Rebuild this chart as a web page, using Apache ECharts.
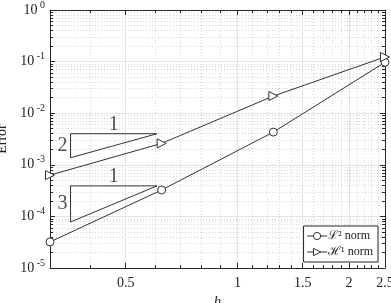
<!DOCTYPE html>
<html><head><meta charset="utf-8">
<script src="https://cdn.jsdelivr.net/npm/echarts@6/dist/echarts.min.js"></script>
<style>html,body{margin:0;padding:0;background:#fff}#c{width:391px;height:303px}</style>
</head><body><div id="c"></div>
<script>
// ---- data ----
const h = [0.3125, 0.625, 1.25, 2.5];
const errL2 = [3.2e-5, 3.25e-4, 4.3e-3, 0.097];
const errH1 = [6.3e-4, 2.6e-3, 0.0215, 0.123];
const seriesNames = ['\u2112\u00b2 norm', '\u210b\u00b9 norm'];
const xTickLabels = [0.5, 1, 1.5, 2, 2.5];
const xMinorTicks = [0.4, 0.6, 0.7, 0.8, 0.9, 1.1, 1.2, 1.3, 1.4, 1.6, 1.7, 1.8, 1.9, 2.1, 2.2, 2.3, 2.4];
const yTicks = [1e-5, 1e-4, 1e-3, 1e-2, 1e-1, 1];
const yMinorMult = [2, 3, 4, 5, 6, 7, 8, 9];
// slope triangles: x extent, top value, slope, labels
const slopeX = [0.355, 0.607];
const triA = {top: 4.0e-3, slope: 2, run: '1', rise: '2'};
const triB = {top: 3.9e-4, slope: 3, run: '1', rise: '3'};

const yMinorTicks = [];
for (let k = 0; k < yTicks.length - 1; k++) yMinorMult.forEach(m => yMinorTicks.push(+(m * yTicks[k]).toPrecision(3)));

const FONT = '"Liberation Serif", "DejaVu Serif", serif';
const AX = '#262626';
const LN = '#333333';

function triData(t) {
  const x0 = slopeX[0], x1 = slopeX[1];
  const bottom = t.top * Math.pow(x0 / x1, t.slope);
  return {
    path: [[x0, t.top], [x1, t.top], [x0, bottom], [x0, t.top]],
    labels: [
      {value: [Math.sqrt(x0 * x1), t.top], label: {formatter: t.run, position: 'top', distance: -1}},
      {value: [x0, Math.sqrt(t.top * bottom)], label: {formatter: t.rise, position: 'left', distance: 3}}
    ]
  };
}
const TA = triData(triA), TB = triData(triB);

function supLabel(v) {
  const e = Math.round(Math.log10(v));
  return '{b|10}{e| ' + e + '}';
}

const baseX = {type: 'log', logBase: 10, min: h[0], max: h[h.length - 1], gridIndex: 0};
const baseY = {type: 'log', logBase: 10, min: yTicks[0], max: yTicks[yTicks.length - 1], gridIndex: 0};

const option = {
  animation: false,
  backgroundColor: '#fff',
  textStyle: {fontFamily: FONT},
  grid: {left: 50, right: 6, top: 10, bottom: 35, containLabel: false, outerBoundsMode: 'none'},
  xAxis: [
    Object.assign({}, baseX, {
      position: 'bottom',
      name: 'h', nameLocation: 'middle', nameGap: 22,
      nameTextStyle: {fontFamily: FONT, fontStyle: 'italic', fontSize: 15, color: '#222'},
      axisLine: {show: true, lineStyle: {color: AX, width: 1}},
      axisTick: {show: true, inside: true, length: 5, customValues: xTickLabels, lineStyle: {color: AX}},
      axisLabel: {show: true, customValues: xTickLabels, formatter: v => String(+(+v).toFixed(3)), fontFamily: FONT, fontSize: 14, color: '#222', margin: 8},
      splitLine: {show: true, lineStyle: {color: '#e3e3e3', width: 1, type: 'solid'}}
    }),
    Object.assign({}, baseX, {
      position: 'bottom',
      axisLine: {show: false},
      axisTick: {show: true, inside: true, length: 3, customValues: xMinorTicks, lineStyle: {color: AX}},
      axisLabel: {show: false, customValues: xMinorTicks},
      splitLine: {show: true, lineStyle: {color: '#d6d6d6', width: 1, type: [1, 2]}}
    }),
    Object.assign({}, baseX, {
      position: 'top',
      axisLine: {show: true, onZero: false, lineStyle: {color: AX, width: 1}},
      axisTick: {show: true, inside: true, length: 5, customValues: xTickLabels, lineStyle: {color: AX}},
      axisLabel: {show: false, customValues: xTickLabels},
      splitLine: {show: false}
    }),
    Object.assign({}, baseX, {
      position: 'top',
      axisLine: {show: false},
      axisTick: {show: true, inside: true, length: 3, customValues: xMinorTicks, lineStyle: {color: AX}},
      axisLabel: {show: false, customValues: xMinorTicks},
      splitLine: {show: false}
    })
  ],
  yAxis: [
    Object.assign({}, baseY, {
      position: 'left',
      name: 'Error', nameLocation: 'middle', nameGap: 36,
      nameTextStyle: {fontFamily: FONT, fontSize: 14, color: '#222'},
      axisLine: {show: true, onZero: false, lineStyle: {color: AX, width: 1}},
      axisTick: {show: true, inside: true, length: 5, customValues: yTicks, lineStyle: {color: AX}},
      axisLabel: {show: true, customValues: yTicks, formatter: supLabel, margin: 5,
        rich: {b: {fontFamily: FONT, fontSize: 14, color: '#222'}, e: {fontFamily: FONT, fontSize: 10, color: '#222', padding: [0, 0, 10, 0]}}},
      splitLine: {show: true, lineStyle: {color: '#e3e3e3', width: 1, type: 'solid'}}
    }),
    Object.assign({}, baseY, {
      position: 'left',
      axisLine: {show: false},
      axisTick: {show: true, inside: true, length: 3, customValues: yMinorTicks, lineStyle: {color: AX}},
      axisLabel: {show: false, customValues: yMinorTicks},
      splitLine: {show: true, lineStyle: {color: '#d6d6d6', width: 1, type: [1, 2]}}
    }),
    Object.assign({}, baseY, {
      position: 'right',
      axisLine: {show: true, onZero: false, lineStyle: {color: AX, width: 1}},
      axisTick: {show: true, inside: true, length: 5, customValues: yTicks, lineStyle: {color: AX}},
      axisLabel: {show: false, customValues: yTicks},
      splitLine: {show: false}
    }),
    Object.assign({}, baseY, {
      position: 'right',
      axisLine: {show: false},
      axisTick: {show: true, inside: true, length: 3, customValues: yMinorTicks, lineStyle: {color: AX}},
      axisLabel: {show: false, customValues: yMinorTicks},
      splitLine: {show: false}
    })
  ],
  legend: {
    data: seriesNames,
    orient: 'vertical',
    right: 13, bottom: 41,
    backgroundColor: '#fff',
    borderColor: AX, borderWidth: 1, borderRadius: 0,
    padding: [4, 5, 4, 3],
    itemGap: 4, itemWidth: 20, itemHeight: 9,
    lineStyle: {width: 1},
    itemStyle: {borderWidth: 1},
    textStyle: {fontFamily: FONT, fontSize: 12, color: '#222', padding: [0, 0, 0, -4]}
  },
  series: [
    {
      name: seriesNames[0], type: 'line', xAxisIndex: 0, yAxisIndex: 0,
      data: h.map((x, i) => [x, errL2[i]]),
      symbol: 'circle', symbolSize: 8,
      lineStyle: {color: LN, width: 1},
      itemStyle: {color: '#fff', borderColor: LN, borderWidth: 1},
      z: 5
    },
    {
      name: seriesNames[1], type: 'line', xAxisIndex: 0, yAxisIndex: 0,
      data: h.map((x, i) => [x, errH1[i]]),
      symbol: 'triangle', symbolSize: 9, symbolRotate: -90,
      lineStyle: {color: LN, width: 1},
      itemStyle: {color: '#fff', borderColor: LN, borderWidth: 1},
      z: 5
    },
    {
      name: 'triA', type: 'line', xAxisIndex: 0, yAxisIndex: 0, data: TA.path,
      symbol: 'none', lineStyle: {color: LN, width: 1}, silent: true, z: 4
    },
    {
      name: 'triB', type: 'line', xAxisIndex: 0, yAxisIndex: 0, data: TB.path,
      symbol: 'none', lineStyle: {color: LN, width: 1}, silent: true, z: 4
    },
    {
      name: 'triLabels', type: 'scatter', xAxisIndex: 0, yAxisIndex: 0,
      data: TA.labels.concat(TB.labels), symbolSize: 0, silent: true,
      label: {show: true, fontFamily: FONT, fontSize: 20, color: '#222'}
    }
  ]
};
const chart = echarts.init(document.getElementById('c'), null, {renderer: 'canvas'});
chart.setOption(option);
</script>
</body></html>
